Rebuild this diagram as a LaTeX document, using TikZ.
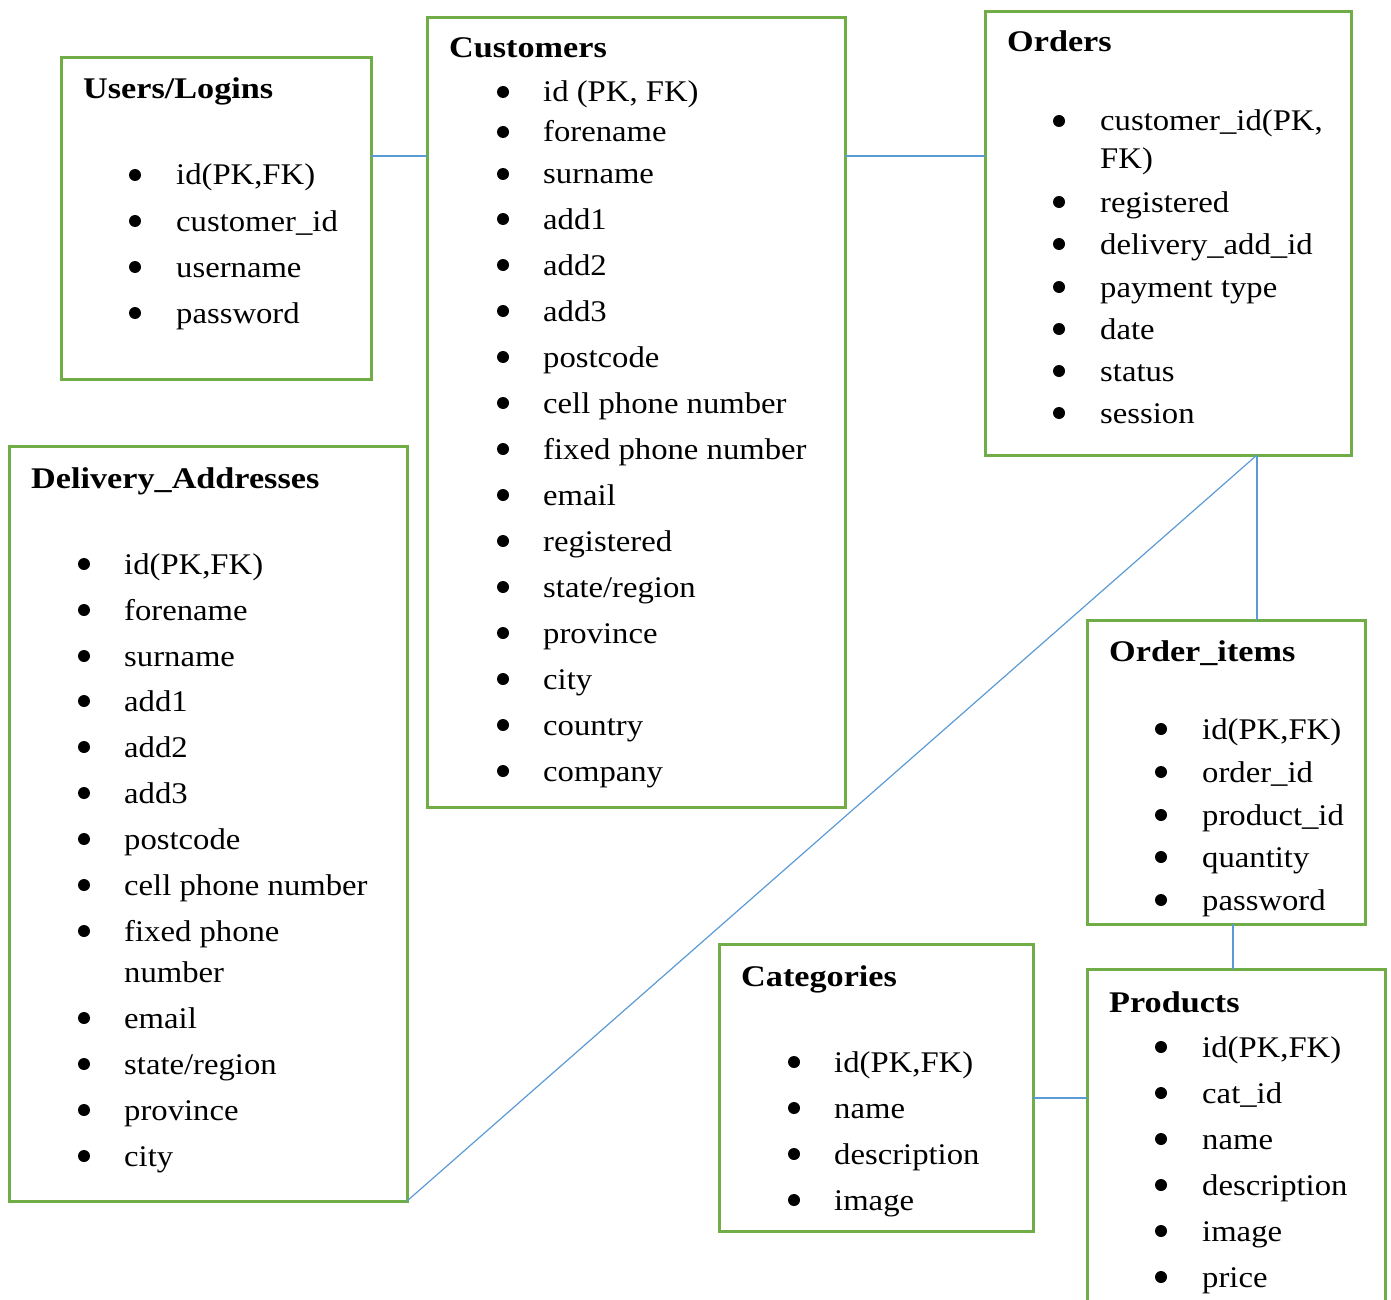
\documentclass[tikz,border=0pt]{standalone}
\usepackage{fontspec}
\setmainfont[FakeStretch=1.09, BoldFeatures={FakeStretch=1.14}]{Liberation Serif}
\definecolor{boxgreen}{HTML}{70AD47}
\definecolor{linkblue}{HTML}{5B9BD5}
\tikzset{
  tbl/.style={draw=boxgreen, line width=3pt, anchor=north west, inner sep=0pt, outer sep=0pt},
  ttl/.style={font=\bfseries\fontsize{30}{36}\selectfont, anchor=base west, inner sep=0pt},
  itm/.style={font=\fontsize{30}{36}\selectfont, anchor=base west, inner sep=0pt},
  link/.style={draw=linkblue, line width=1.2pt}
}
\begin{document}
\begin{tikzpicture}[x=1pt,y=-1pt]
\clip (0,0) rectangle (1391,1300);
\useasboundingbox (0,0) rectangle (1391,1300);

% boxes
\node[tbl, minimum width=310pt, minimum height=321pt] (users) at (61,58) {};
\node[tbl, minimum width=418pt, minimum height=789pt] (cust) at (427,18) {};
\node[tbl, minimum width=366pt, minimum height=443pt] (orders) at (985,12) {};
\node[tbl, minimum width=398pt, minimum height=755pt] (deliv) at (9,446) {};
\node[tbl, minimum width=278pt, minimum height=304pt] (oitems) at (1087,620) {};
\node[tbl, minimum width=314pt, minimum height=287pt] (cats) at (719,944) {};
\node[tbl, minimum width=298pt, minimum height=380pt] (prods) at (1087,969) {};

% connectors
\draw[link] ([yshift=-98pt]users.north east) -- ([yshift=-138pt]cust.north west);
\draw[link] ([yshift=-138pt]cust.north east) -- ([yshift=-144pt]orders.north west);
\coordinate (ordfoot) at ([xshift=-94pt]orders.south east);
\draw[link] (ordfoot) -- ([xshift=-108pt]oitems.north east);
\draw[link] (ordfoot) -- (deliv.south east);
\draw[link] ([xshift=7pt]oitems.south) -- ([xshift=146pt]prods.north west);
\draw[link] ([yshift=-154pt]cats.north east) -- ([yshift=-129pt]prods.north west);

% Users/Logins
\node[ttl] (usersT) at (83,99) {Users/Logins};
\foreach \yy/\t [count=\i] in {175/{id(PK,FK)}, 221/{customer\_id}, 267/{username}, 313/{password}}{
  \fill (135,\yy) circle (6pt);
  \node[itm] (u\i) at (176,\yy+10) {\t};
}

% Customers
\node[ttl] (custT) at (449,58) {Customers};
\foreach \yy/\t [count=\i] in {92/{id (PK, FK)}, 132/{forename}, 174/{surname}, 219/{add1}, 265/{add2}, 311/{add3}, 357/{postcode}, 403/{cell phone number}, 449/{fixed phone number}, 495/{email}, 541/{registered}, 587/{state/region}, 633/{province}, 679/{city}, 725/{country}, 771/{company}}{
  \fill (503,\yy) circle (6pt);
  \node[itm] (c\i) at (543,\yy+10) {\t};
}

% Orders
\node[ttl] (ordT) at (1007,52) {Orders};
\foreach \yy/\t [count=\i] in {121/{customer\_id(PK,}, 202/{registered}, 244/{delivery\_add\_id}, 287/{payment type}, 329/{date}, 371/{status}, 413/{session}}{
  \fill (1059,\yy) circle (6pt);
  \node[itm] (o\i) at (1100,\yy+10) {\t};
}
\node[itm] (o1b) at (1100,169) {FK)};

% Delivery_Addresses
\node[ttl] (delT) at (31,488) {Delivery\_Addresses};
\foreach \yy/\t [count=\i] in {564/{id(PK,FK)}, 610/{forename}, 656/{surname}, 701/{add1}, 747/{add2}, 793/{add3}, 839/{postcode}, 885/{cell phone number}, 931/{fixed phone}, 1018/{email}, 1064/{state/region}, 1110/{province}, 1156/{city}}{
  \fill (84,\yy) circle (6pt);
  \node[itm] (d\i) at (124,\yy+10) {\t};
}
\node[itm] (d9b) at (124,982) {number};

% Order_items
\node[ttl] (oiT) at (1109,661) {Order\_items};
\foreach \yy/\t [count=\i] in {729/{id(PK,FK)}, 772/{order\_id}, 815/{product\_id}, 857/{quantity}, 900/{password}}{
  \fill (1161,\yy) circle (6pt);
  \node[itm] (oi\i) at (1202,\yy+10) {\t};
}

% Categories
\node[ttl] (catT) at (741,986) {Categories};
\foreach \yy/\t [count=\i] in {1062/{id(PK,FK)}, 1108/{name}, 1154/{description}, 1200/{image}}{
  \fill (794,\yy) circle (6pt);
  \node[itm] (k\i) at (834,\yy+10) {\t};
}

% Products
\node[ttl] (prT) at (1109,1012) {Products};
\foreach \yy/\t [count=\i] in {1047/{id(PK,FK)}, 1093/{cat\_id}, 1139/{name}, 1185/{description}, 1231/{image}, 1277/{price}}{
  \fill (1161,\yy) circle (6pt);
  \node[itm] (p\i) at (1202,\yy+10) {\t};
}
\end{tikzpicture}
\end{document}
